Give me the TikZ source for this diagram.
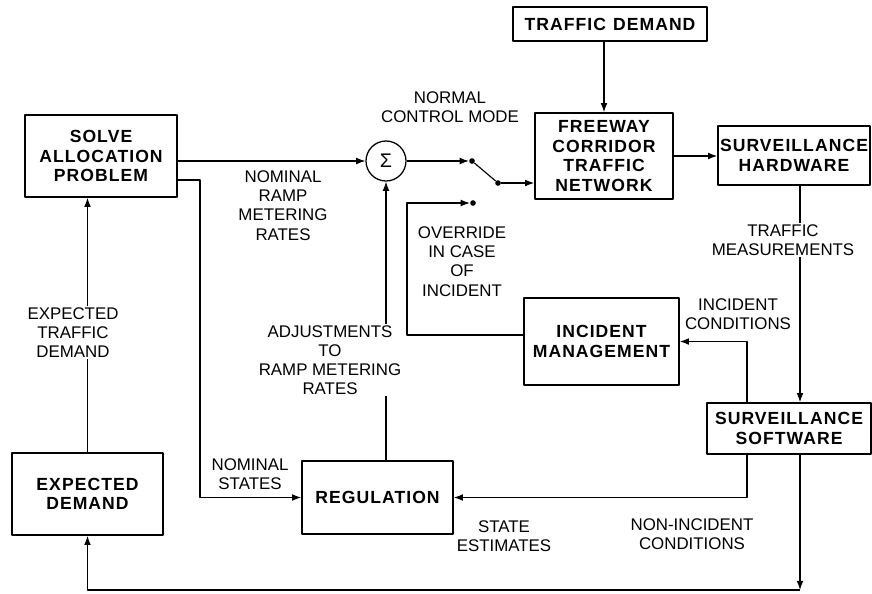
\documentclass[tikz,border=0pt]{standalone}
\usepackage{fontspec}
\setmainfont{Liberation Sans}
\newfontfamily\boxfont[LetterSpace=6]{Liberation Sans}
\usetikzlibrary{arrows.meta}
\begin{document}
\begin{tikzpicture}[>={Latex[length=2.3mm,width=1.7mm]}, line join=round,
  box/.style={draw, line width=1.1pt, inner sep=0pt, align=center,
    font=\boxfont\bfseries\fontsize{12.5}{13.8}\selectfont},
  lbl/.style={align=center, inner sep=1pt, font=\fontsize{12}{13.6}\selectfont},
  dot/.style={circle, fill, inner sep=0pt, minimum size=4pt},
  conn/.style={line width=0.8pt}]
\useasboundingbox (0,0) rectangle (21.8,-14.825);
% blocks
\node[box, minimum width=3.8cm, minimum height=2.05cm] (solve) at (2.525,-3.9) {SOLVE\\ALLOCATION\\PROBLEM};
\node[box, minimum width=3.775cm, minimum height=2.05cm] (ed) at (2.1875,-12.35) {EXPECTED\\DEMAND};
\node[box, minimum width=3.775cm, minimum height=1.825cm] (reg) at (9.4375,-12.4375) {REGULATION};
\node[box, minimum width=3.875cm, minimum height=2.175cm] (im) at (15.0375,-8.5375) {INCIDENT\\MANAGEMENT};
\node[box, minimum width=4.1cm, minimum height=1.275cm] (sw) at (19.725,-10.7125) {SURVEILLANCE\\SOFTWARE};
\node[box, minimum width=4.85cm, minimum height=0.85cm] (td) at (15.25,-0.6) {TRAFFIC\hspace{0.4em}DEMAND};
\node[box, minimum width=3.45cm, minimum height=2.15cm] (fw) at (15.1,-3.9) {FREEWAY\\CORRIDOR\\TRAFFIC\\NETWORK};
\node[box, minimum width=3.8cm, minimum height=1.475cm] (hw) at (19.85,-3.8875) {SURVEILLANCE\\HARDWARE};
\node[draw, circle, line width=0.9pt, minimum size=1cm, inner sep=0pt,
  font=\fontsize{14}{14}\selectfont] (sum) at (9.65,-4.025) {Σ};
% switch contacts
\node[dot] (swa) at (11.8,-4.025) {};
\node[dot] (swb) at (12.45,-4.575) {};
\node[dot] (swc) at (11.825,-5.075) {};
\coordinate (nsbend) at (5,-4.5);
\coordinate (ovbend) at (10.175,-8.375);
\coordinate (msx) at (20,0);
\coordinate (swx) at (18.675,0);
\coordinate (ndcorner) at (20,-14.75);
% connectors
\draw[conn,->] (solve.east |- sum) -- (sum);
\draw[conn,->] (solve.east |- nsbend) -- (nsbend) |- (reg.west);
\draw[conn,->] (ed) -- (ed |- solve.south);
\draw[conn,->] (sum) -- (swa);
\draw[conn] (swa) -- (swb);
\draw[conn,->] (swb) -- (swb -| fw.west);
\draw[conn,->] (im.west |- ovbend) -- (ovbend) |- (swc);
\draw[conn,->] (td.south -| fw.north) -- (fw.north);
\draw[conn,->] (fw) -- (fw -| hw.west);
\draw[conn,->] (hw.south -| msx) -- (sw.north -| msx);
\draw[conn,->] (sw.north -| swx) |- (im.east);
\draw[conn,->] (sw.south -| swx) |- (reg.east);
\draw[conn,->] (sw.south -| ndcorner) -- (ndcorner);
\draw[conn,->] (ndcorner) -| (ed.south);
\draw[conn,->] (reg.north -| sum) -- (sum);
% labels
\node[lbl] (lrates) at (7.075,-5.14) {NOMINAL\\RAMP\\METERING\\RATES};
\node[lbl] (lmode) at (11.25,-2.675) {NORMAL\\CONTROL MODE};
\node[lbl] (lover) at (11.55,-6.54) {OVERRIDE\\IN CASE\\OF\\INCIDENT};
\node[lbl, fill=white] (ladj) at (8.25,-9.01) {ADJUSTMENTS\\TO\\RAMP METERING\\RATES};
\node[lbl, fill=white] (lexp) at (1.825,-8.32) {EXPECTED\\TRAFFIC\\DEMAND};
\node[lbl, fill=white] (lmeas) at (19.575,-6.0) {TRAFFIC\\MEASUREMENTS};
\node[lbl] (linc) at (18.45,-7.85) {INCIDENT\\CONDITIONS};
\node[lbl] (lstates) at (6.25,-11.86) {NOMINAL\\STATES};
\node[lbl] (lest) at (12.6,-13.41) {STATE\\ESTIMATES};
\node[lbl] (lnon) at (17.3,-13.35) {NON-INCIDENT\\CONDITIONS};
\end{tikzpicture}
\end{document}
